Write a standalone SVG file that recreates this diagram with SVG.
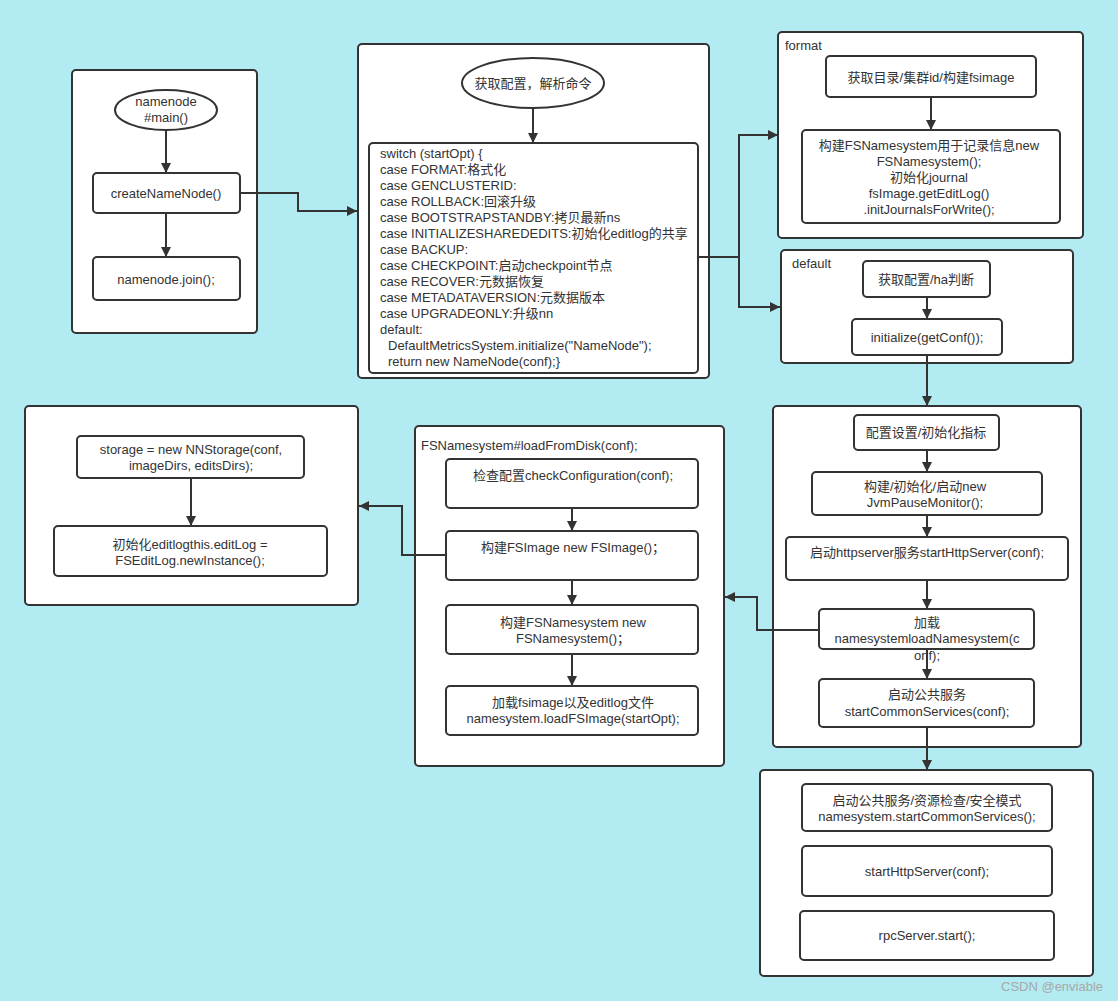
<svg xmlns="http://www.w3.org/2000/svg" width="1118" height="1001" viewBox="0 0 1118 1001">
<defs>
<marker id="ah" markerWidth="10" markerHeight="10" refX="10" refY="5" orient="auto" markerUnits="userSpaceOnUse">
<path d="M0,0 L10,5 L0,10 Z" fill="#333"/>
</marker>
</defs>
<style>
.bg{fill:#B2EBF2}
.c{fill:#fff;stroke:#333;stroke-width:2}
.n{fill:#fff;stroke:#333;stroke-width:2}
.t{font-family:"Liberation Sans","Noto Sans CJK SC",sans-serif;font-size:13px;fill:#333}
.m{text-anchor:middle}
.e{fill:none;stroke:#333;stroke-width:2;marker-end:url(#ah)}
.w{font-family:"Liberation Sans","Noto Sans CJK SC",sans-serif;font-size:13px;fill:#a8a8a8}
</style>
<rect class="bg" x="0" y="0" width="1118" height="1001"/>

<g id="main-box">
<rect class="c" x="72" y="70" width="185" height="263" rx="4"/>
</g>
<g id="main-entry">
<ellipse class="n" cx="166" cy="110" rx="51" ry="20"/>
<text class="t m" x="166" y="106">namenode</text>
<text class="t m" x="166" y="122">#main()</text>
</g>
<g id="createNameNode">
<rect class="n" x="93" y="173" width="147" height="40" rx="4"/>
<text class="t m" x="166" y="198">createNameNode()</text>
</g>
<g id="join">
<rect class="n" x="93" y="257" width="147" height="43" rx="4"/>
<text class="t m" x="166" y="284">namenode.join();</text>
</g>

<g id="switch-box">
<rect class="c" x="358" y="44" width="351" height="334" rx="4"/>
</g>
<g id="parse">
<ellipse class="n" cx="533" cy="83" rx="71" ry="25"/>
<text class="t m" x="533" y="88">获取配置，解析命令</text>
</g>
<g id="switch">
<rect class="n" x="369" y="143" width="329" height="230" rx="4"/>
<text class="t" x="380" y="158">switch (startOpt) {</text>
<text class="t" x="380" y="174">case FORMAT:格式化</text>
<text class="t" x="380" y="190">case GENCLUSTERID:</text>
<text class="t" x="380" y="206">case ROLLBACK:回滚升级</text>
<text class="t" x="380" y="222">case BOOTSTRAPSTANDBY:拷贝最新ns</text>
<text class="t" x="380" y="238">case INITIALIZESHAREDEDITS:初始化editlog的共享</text>
<text class="t" x="380" y="254">case BACKUP:</text>
<text class="t" x="380" y="270">case CHECKPOINT:启动checkpoint节点</text>
<text class="t" x="380" y="286">case RECOVER:元数据恢复</text>
<text class="t" x="380" y="302">case METADATAVERSION:元数据版本</text>
<text class="t" x="380" y="318">case UPGRADEONLY:升级nn</text>
<text class="t" x="380" y="334">default:</text>
<text class="t" x="388" y="350">DefaultMetricsSystem.initialize("NameNode");</text>
<text class="t" x="388" y="366">return new NameNode(conf);}</text>
</g>

<g id="format-box">
<rect class="c" x="778" y="32" width="305" height="206" rx="4"/>
<text class="t" x="785" y="50">format</text>
</g>
<g id="format-1">
<rect class="n" x="826" y="56" width="210" height="41" rx="4"/>
<text class="t m" x="931" y="82">获取目录/集群id/构建fsimage</text>
</g>
<g id="format-2">
<rect class="n" x="802" y="130" width="258" height="93" rx="4"/>
<text class="t m" x="929" y="150">构建FSNamesystem用于记录信息new</text>
<text class="t m" x="929" y="166">FSNamesystem();</text>
<text class="t m" x="929" y="182">初始化journal</text>
<text class="t m" x="929" y="198">fsImage.getEditLog()</text>
<text class="t m" x="929" y="214">.initJournalsForWrite();</text>
</g>

<g id="default-box">
<rect class="c" x="781" y="250" width="292" height="113" rx="4"/>
<text class="t" x="792" y="268">default</text>
</g>
<g id="default-1">
<rect class="n" x="863" y="261" width="127" height="36" rx="4"/>
<text class="t m" x="926" y="284">获取配置/ha判断</text>
</g>
<g id="default-2">
<rect class="n" x="852" y="319" width="150" height="36" rx="4"/>
<text class="t m" x="927" y="342">initialize(getConf());</text>
</g>

<g id="init-box">
<rect class="c" x="773" y="406" width="308" height="341" rx="4"/>
</g>
<g id="init-1">
<rect class="n" x="854" y="415" width="145" height="35" rx="4"/>
<text class="t m" x="926" y="437">配置设置/初始化指标</text>
</g>
<g id="init-2">
<rect class="n" x="812" y="472" width="230" height="43" rx="4"/>
<text class="t m" x="925" y="491">构建/初始化/启动new</text>
<text class="t m" x="925" y="507">JvmPauseMonitor();</text>
</g>
<g id="init-3">
<rect class="n" x="786" y="537" width="282" height="43" rx="4"/>
<text class="t m" x="927" y="557">启动httpserver服务startHttpServer(conf);</text>
</g>
<g id="init-4">
<rect class="n" x="819" y="609" width="215" height="40" rx="4"/>
<text class="t m" x="927" y="627">加载</text>
<text class="t m" x="927" y="643">namesystemloadNamesystem(c</text>
<text class="t m" x="927" y="660">onf);</text>
</g>
<g id="init-5">
<rect class="n" x="819" y="679" width="215" height="48" rx="4"/>
<text class="t m" x="927" y="699">启动公共服务</text>
<text class="t m" x="927" y="716">startCommonServices(conf);</text>
</g>

<g id="load-box">
<rect class="c" x="415" y="426" width="309" height="340" rx="4"/>
<text class="t" x="421" y="450">FSNamesystem#loadFromDisk(conf);</text>
</g>
<g id="load-1">
<rect class="n" x="446" y="459" width="252" height="49" rx="4"/>
<text class="t m" x="573" y="480">检查配置checkConfiguration(conf);</text>
</g>
<g id="load-2">
<rect class="n" x="446" y="531" width="252" height="49" rx="4"/>
<text class="t m" x="573" y="552">构建FSImage new FSImage()；</text>
</g>
<g id="load-3">
<rect class="n" x="446" y="605" width="252" height="49" rx="4"/>
<text class="t m" x="573" y="627">构建FSNamesystem new</text>
<text class="t m" x="573" y="643">FSNamesystem()；</text>
</g>
<g id="load-4">
<rect class="n" x="446" y="686" width="252" height="49" rx="4"/>
<text class="t m" x="573" y="707">加载fsimage以及editlog文件</text>
<text class="t m" x="573" y="723">namesystem.loadFSImage(startOpt);</text>
</g>

<g id="storage-box">
<rect class="c" x="25" y="406" width="333" height="199" rx="4"/>
</g>
<g id="storage-1">
<rect class="n" x="77" y="436" width="227" height="42" rx="4"/>
<text class="t m" x="191" y="454">storage = new NNStorage(conf,</text>
<text class="t m" x="191" y="470">imageDirs, editsDirs);</text>
</g>
<g id="storage-2">
<rect class="n" x="54" y="526" width="273" height="50" rx="4"/>
<text class="t m" x="190" y="549">初始化editlogthis.editLog =</text>
<text class="t m" x="190" y="565">FSEditLog.newInstance();</text>
</g>

<g id="services-box">
<rect class="c" x="760" y="770" width="333" height="206" rx="4"/>
</g>
<g id="services-1">
<rect class="n" x="802" y="784" width="250" height="47" rx="4"/>
<text class="t m" x="927" y="805">启动公共服务/资源检查/安全模式</text>
<text class="t m" x="927" y="821">namesystem.startCommonServices();</text>
</g>
<g id="services-2">
<rect class="n" x="802" y="846" width="250" height="50" rx="4"/>
<text class="t m" x="927" y="876">startHttpServer(conf);</text>
</g>
<g id="services-3">
<rect class="n" x="800" y="911" width="254" height="49" rx="4"/>
<text class="t m" x="927" y="940">rpcServer.start();</text>
</g>

<g id="connectors">
<path class="e" d="M166,130 V173"/>
<path class="e" d="M166,213 V257"/>
<path class="e" d="M240,193 H298 V211 H357"/>
<path class="e" d="M533,108 V143"/>
<path class="e" d="M698,257 H739 V135 H778"/>
<path class="e" d="M739,257 V307 H780"/>
<path class="e" d="M931,97 V130"/>
<path class="e" d="M927,297 V319"/>
<path class="e" d="M927,355 V406"/>
<path class="e" d="M927,450 V472"/>
<path class="e" d="M927,515 V537"/>
<path class="e" d="M927,580 V609"/>
<path class="e" d="M927,649 V679"/>
<path class="e" d="M927,727 V770"/>
<path class="e" d="M819,630 H757 V597 H725"/>
<path class="e" d="M572,508 V531"/>
<path class="e" d="M572,580 V605"/>
<path class="e" d="M572,654 V686"/>
<path class="e" d="M446,555 H402 V506 H359"/>
<path class="e" d="M191,478 V526"/>
</g>

<text class="w" x="1001" y="991">CSDN @enviable</text>
</svg>
